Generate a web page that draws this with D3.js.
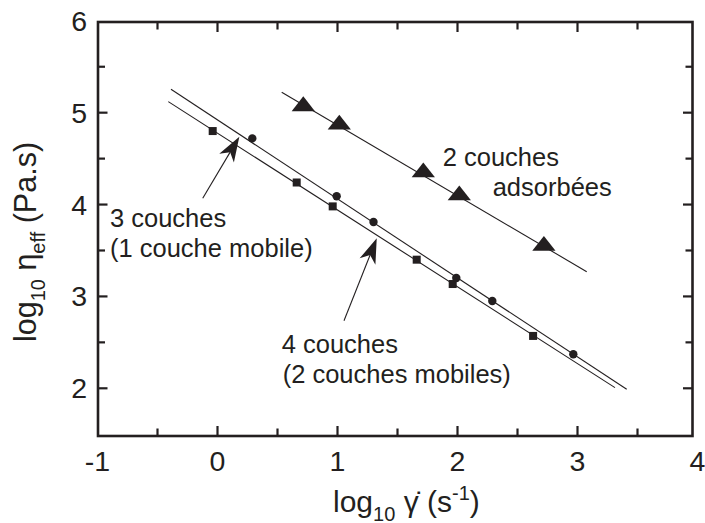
<!DOCTYPE html>
<html><head><meta charset="utf-8">
<script src="https://cdn.jsdelivr.net/npm/d3@7"></script>
<style>
html,body{margin:0;padding:0;background:#fff;}
svg{display:block;}
text{font-family:"Liberation Sans",Arial,Helvetica,sans-serif;fill:#231f20;}
</style></head>
<body>
<script>
// ---- data ----
const sqX = [-0.04, 0.66, 0.96, 1.66, 1.96, 2.63];
const sqY = [4.80, 4.24, 3.98, 3.40, 3.135, 2.57];
const ciX = [0.29, 0.993, 1.30, 1.99, 2.29, 2.965];
const ciY = [4.72, 4.09, 3.81, 3.20, 2.95, 2.37];
const trX = [0.715, 1.015, 1.715, 2.015, 2.72];
const trY = [5.07, 4.87, 4.35, 4.10, 3.55];
// fit lines: [x0, y0, x1, y1]
const fitCircles = [-0.3875, 5.255, 3.41, 1.989];
const fitSquares = [-0.41, 5.12, 3.3125, 2.007];
const fitTriangles = [0.535, 5.222, 3.077, 3.269];
// arrows: [xTail, yTail, xTip, yTip]
const arrows = [[-0.123, 4.068, 0.182, 4.739], [1.054, 2.736, 1.327, 3.633]];
// labels: [text, x, y]
const labels = [
  ["2 couches", 1.877, 4.423],
  ["adsorbées", 2.293, 4.093],
  ["3 couches", -0.896, 3.759],
  ["(1 couche mobile)", -0.896, 3.432],
  ["4 couches", 0.535, 2.388],
  ["(2 couches mobiles)", 0.543, 2.054]
];
const xMajor = [-1, 0, 1, 2, 3, 4];
const xMinor = [-0.5, 0.5, 1.5, 2.5, 3.5];
const yMajor = [2, 3, 4, 5, 6];
const yMinor = [2.5, 3.5, 4.5, 5.5];
const xTickLabels = ["-1", "0", "1", "2", "3", "4"];
const yTickLabels = ["2", "3", "4", "5", "6"];

// ---- layout ----
const W = 705, H = 523;
const frame = {left: 98, right: 692.5, top: 22, bottom: 436};
const x = d3.scaleLinear().domain([-1, 4]).range([97.5, 697.5]);
const y = d3.scaleLinear().domain([2, 6]).range([388.3, 20.8]);
const ink = "#231f20";

const svg = d3.select("body").append("svg").attr("width", W).attr("height", H);

// fit lines
[fitCircles, fitSquares, fitTriangles].forEach(f => {
  svg.append("line").attr("x1", x(f[0])).attr("y1", y(f[1]))
    .attr("x2", x(f[2])).attr("y2", y(f[3]))
    .attr("stroke", ink).attr("stroke-width", 1.1);
});

// markers
svg.selectAll(".sq").data(sqX.map((v,i)=>[v,sqY[i]])).enter().append("rect")
  .attr("x", d => x(d[0]) - 4).attr("y", d => y(d[1]) - 4)
  .attr("width", 8).attr("height", 8).attr("fill", ink);
svg.selectAll(".ci").data(ciX.map((v,i)=>[v,ciY[i]])).enter().append("circle")
  .attr("cx", d => x(d[0])).attr("cy", d => y(d[1])).attr("r", 4.2).attr("fill", ink);
const triSym = d3.symbol().type(d3.symbolTriangle).size(150);
svg.selectAll(".tr").data(trX.map((v,i)=>[v,trY[i]])).enter().append("path")
  .attr("d", triSym)
  .attr("transform", d => `translate(${x(d[0])},${y(d[1])}) scale(1.25,0.92)`)
  .attr("fill", ink);

// arrows
arrows.forEach(a => {
  const x0 = x(a[0]), y0 = y(a[1]), x1 = x(a[2]), y1 = y(a[3]);
  const ang = Math.atan2(y1 - y0, x1 - x0);
  const L = 25, Wd = 8.5, notch = 18;
  svg.append("line").attr("x1", x0).attr("y1", y0)
    .attr("x2", x1 - Math.cos(ang) * notch).attr("y2", y1 - Math.sin(ang) * notch)
    .attr("stroke", ink).attr("stroke-width", 1.1);
  const g = svg.append("g").attr("transform", `translate(${x1},${y1}) rotate(${ang * 180 / Math.PI})`);
  g.append("path").attr("d", `M0,0 L${-L},${-Wd} L${-notch},0 L${-L},${Wd} Z`).attr("fill", ink);
});

// labels
svg.selectAll(".lab").data(labels).enter().append("text")
  .attr("x", d => x(d[1])).attr("y", d => y(d[2]))
  .attr("font-size", 25.5).text(d => d[0]);

// frame
svg.append("rect").attr("x", frame.left).attr("y", frame.top)
  .attr("width", frame.right - frame.left).attr("height", frame.bottom - frame.top)
  .attr("fill", "none").attr("stroke", ink).attr("stroke-width", 2.6);

// ticks (all four sides, inward)
const tk = svg.append("g").attr("stroke", ink).attr("stroke-width", 2.2);
function xt(v, len) {
  tk.append("line").attr("x1", x(v)).attr("x2", x(v)).attr("y1", frame.bottom).attr("y2", frame.bottom - len);
  tk.append("line").attr("x1", x(v)).attr("x2", x(v)).attr("y1", frame.top).attr("y2", frame.top + len);
}
function yt(v, len) {
  tk.append("line").attr("y1", y(v)).attr("y2", y(v)).attr("x1", frame.left).attr("x2", frame.left + len);
  tk.append("line").attr("y1", y(v)).attr("y2", y(v)).attr("x1", frame.right).attr("x2", frame.right - len);
}
xMajor.filter(v => x(v) > frame.left + 2 && x(v) < frame.right - 2).forEach(v => xt(v, 10));
xMinor.forEach(v => xt(v, 7.5));
yMajor.filter(v => y(v) > frame.top + 2).forEach(v => yt(v, 9.5));
yMinor.forEach(v => yt(v, 7));

// tick labels
svg.selectAll(".xl").data(xMajor).enter().append("text")
  .attr("x", d => x(d)).attr("y", 471).attr("text-anchor", "middle")
  .attr("font-size", 28.5).text((d, i) => xTickLabels[i]);
svg.selectAll(".yl").data(yMajor).enter().append("text")
  .attr("x", 87).attr("y", d => y(d) + 10).attr("text-anchor", "end")
  .attr("font-size", 28.5).text((d, i) => yTickLabels[i]);

// x axis title
const xt1 = svg.append("text").attr("x", 333).attr("y", 511.5).attr("font-size", 30);
xt1.append("tspan").text("log");
xt1.append("tspan").attr("font-size", 20).attr("dy", 9).text("10");
xt1.append("tspan").attr("dy", -9).text(" γ̇ (s");
xt1.append("tspan").attr("font-size", 20).attr("dy", -12).text("-1");
xt1.append("tspan").attr("dy", 12).text(")");

// y axis title
const yt1 = svg.append("text").attr("transform", "translate(36,242) rotate(-90)")
  .attr("text-anchor", "middle").attr("font-size", 30.5);
yt1.append("tspan").text("log");
yt1.append("tspan").attr("font-size", 20).attr("dy", 9).text("10");
yt1.append("tspan").attr("dy", -9).text(" η");
yt1.append("tspan").attr("font-size", 20).attr("dy", 9).text("eff");
yt1.append("tspan").attr("dy", -9).text(" (Pa.s)");
</script>
</body></html>
